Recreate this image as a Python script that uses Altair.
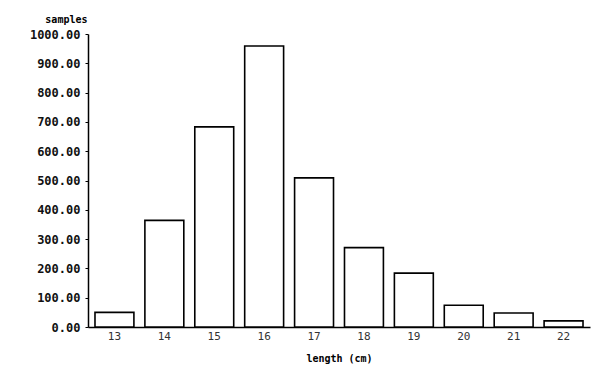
import altair as alt
import pandas as pd

lengths = ["13", "14", "15", "16", "17", "18", "19", "20", "21", "22"]
samples = [50, 364, 683, 959, 509, 271, 184, 74, 48, 21]
y_ticks = [0, 100, 200, 300, 400, 500, 600, 700, 800, 900, 1000]

df = pd.DataFrame({"length": lengths, "samples": samples})

mono = "DejaVu Sans Mono"

chart = (
    alt.Chart(df)
    .mark_bar(fill="white", stroke="black", strokeWidth=1.6)
    .encode(
        x=alt.X(
            "length:N",
            sort=lengths,
            scale=alt.Scale(paddingInner=0.22, paddingOuter=0.14),
            axis=alt.Axis(
                title="length (cm)",
                labelAngle=0,
                labelFont=mono,
                labelFontSize=11,
                labelColor="#333",
                labelPadding=3,
                ticks=False,
                domainColor="black",
                domainWidth=1.5,
                titleFont=mono,
                titleFontSize=10,
                titleFontWeight="bold",
                titlePadding=12,
                grid=False,
            ),
        ),
        y=alt.Y(
            "samples:Q",
            scale=alt.Scale(domain=[0, 1000], nice=False),
            axis=alt.Axis(
                title="samples",
                values=y_ticks,
                format=".2f",
                labelFont=mono,
                labelFontSize=12,
                labelFontWeight="bold",
                labelColor="#111",
                labelPadding=5,
                tickSize=3,
                tickColor="black",
                domainColor="black",
                domainWidth=1.5,
                grid=False,
                titleAngle=0,
                titleAlign="right",
                titleBaseline="middle",
                titleX=-1,
                titleY=-15,
                titleFont=mono,
                titleFontSize=10,
                titleFontWeight="bold",
            ),
        ),
    )
    .properties(
        width=502,
        height=293,
        background="white",
        autosize=alt.AutoSizeParams(type="none"),
        padding={"left": 88, "top": 34, "right": 10, "bottom": 50},
    )
    .configure_view(stroke=None, strokeWidth=0)
)

chart.save("out.html", embed_options={"renderer": "svg", "actions": False})
